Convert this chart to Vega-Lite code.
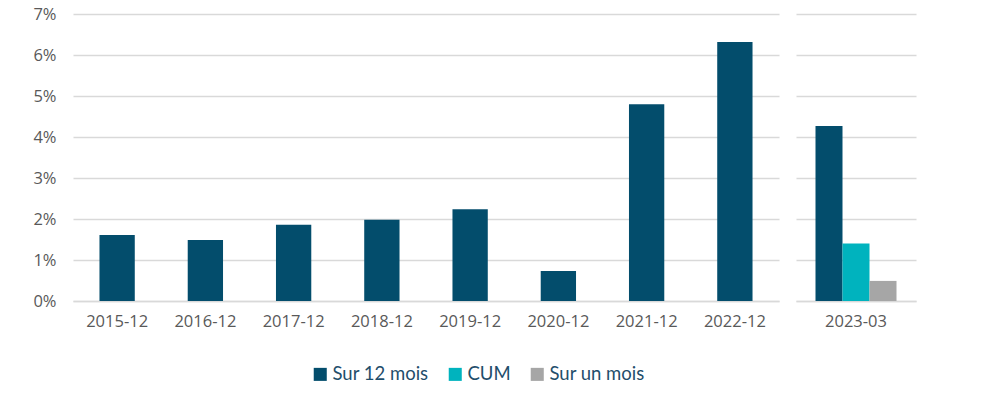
{
  "$schema": "https://vega.github.io/schema/vega-lite/v6.json",
  "background": "white",
  "padding": {"left": 32, "top": 6, "right": 5, "bottom": 5},
  "spacing": 17,
  "datasets": {
    "main": [
      {"period": "2015-12", "series": "Sur 12 mois", "value": 0.0161},
      {"period": "2016-12", "series": "Sur 12 mois", "value": 0.0149},
      {"period": "2017-12", "series": "Sur 12 mois", "value": 0.0186},
      {"period": "2018-12", "series": "Sur 12 mois", "value": 0.0198},
      {"period": "2019-12", "series": "Sur 12 mois", "value": 0.0224},
      {"period": "2020-12", "series": "Sur 12 mois", "value": 0.0073},
      {"period": "2021-12", "series": "Sur 12 mois", "value": 0.0480},
      {"period": "2022-12", "series": "Sur 12 mois", "value": 0.0632}
    ],
    "recent": [
      {"period": "2023-03", "series": "Sur 12 mois", "value": 0.0427},
      {"period": "2023-03", "series": "CUM", "value": 0.0140},
      {"period": "2023-03", "series": "Sur un mois", "value": 0.0049}
    ]
  },
  "config": {
    "view": {"stroke": null},
    "axis": {
      "labelFont": "Open Sans",
      "labelFontSize": 16.5,
      "labelColor": "#595959",
      "labelOverlap": false,
      "gridColor": "#d9d9d9",
      "gridWidth": 1.5,
      "domainColor": "#d9d9d9",
      "domainWidth": 1.5,
      "ticks": false,
      "title": null
    },
    "legend": {
      "labelFont": "Lato",
      "labelFontSize": 18.5,
      "labelColor": "#1f4e6b"
    }
  },
  "hconcat": [
    {
      "width": 706,
      "height": 287,
      "data": {"name": "main"},
      "mark": {"type": "bar"},
      "encoding": {
        "x": {
          "field": "period",
          "type": "nominal",
          "scale": {"paddingInner": 0.6, "paddingOuter": 0.3},
          "axis": {"labelAngle": 0, "labelPadding": 12, "domain": true, "grid": false}
        },
        "y": {
          "field": "value",
          "type": "quantitative",
          "scale": {"domain": [0, 0.07]},
          "axis": {"format": ".0%", "values": [0, 0.01, 0.02, 0.03, 0.04, 0.05, 0.06, 0.07], "domain": false, "labelPadding": 17}
        },
        "color": {
          "field": "series",
          "type": "nominal",
          "scale": {"domain": ["Sur 12 mois", "CUM", "Sur un mois"], "range": ["#034d6c", "#00b3be", "#a6a6a6"]},
          "legend": {
            "title": null,
            "orient": "none",
            "legendX": 238,
            "legendY": 351,
            "direction": "horizontal",
            "symbolType": "square",
            "symbolSize": 170,
            "symbolStrokeWidth": 0,
            "columnPadding": 17,
            "labelOffset": 3
          }
        }
      }
    },
    {
      "width": 120,
      "height": 287,
      "data": {"name": "recent"},
      "mark": {"type": "bar"},
      "encoding": {
        "x": {
          "field": "period",
          "type": "nominal",
          "scale": {"paddingInner": 0, "paddingOuter": 0.2407},
          "axis": {"labelAngle": 0, "labelPadding": 12, "domain": true, "grid": false}
        },
        "xOffset": {
          "field": "series",
          "type": "nominal",
          "sort": ["Sur 12 mois", "CUM", "Sur un mois"],
          "scale": {"paddingInner": 0, "paddingOuter": 0}
        },
        "y": {
          "field": "value",
          "type": "quantitative",
          "scale": {"domain": [0, 0.07]},
          "axis": {"values": [0, 0.01, 0.02, 0.03, 0.04, 0.05, 0.06, 0.07], "labels": false, "domain": false}
        },
        "color": {
          "field": "series",
          "type": "nominal",
          "scale": {"domain": ["Sur 12 mois", "CUM", "Sur un mois"], "range": ["#034d6c", "#00b3be", "#a6a6a6"]}
        }
      }
    }
  ]
}
